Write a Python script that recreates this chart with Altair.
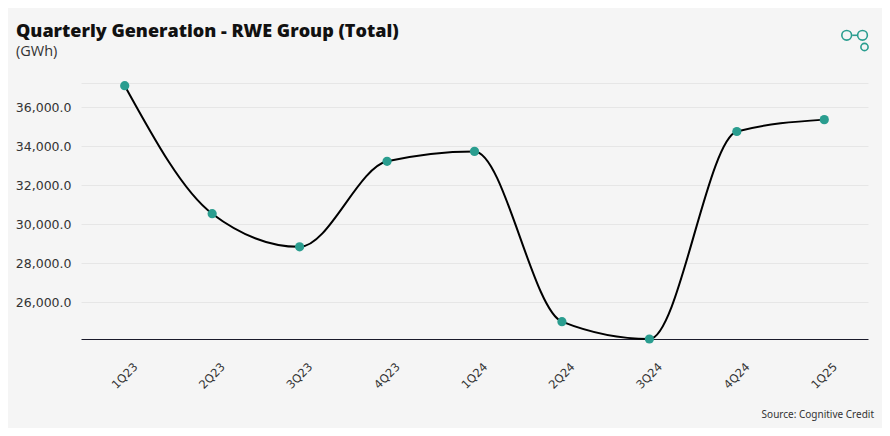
import altair as alt
import pandas as pd

quarters = ["1Q23", "2Q23", "3Q23", "4Q23", "1Q24", "2Q24", "3Q24", "4Q24", "1Q25"]
generation = [37110, 30540, 28840, 33230, 33740, 25000, 24110, 34760, 35370]
y_ticks = [26000, 28000, 30000, 32000, 34000, 36000, 37250]
y_domain = [24110, 37250]

title_text = "Quarterly Generation - RWE Group (Total)"
subtitle_text = "(GWh)"
source_text = ["Source: Cognitive Credit"]

TEAL = "#2a9d8f"
BG = "#f5f5f5"

df = pd.DataFrame({"quarter": quarters, "value": generation})

x_enc = alt.X(
    "quarter:N",
    sort=quarters,
    scale=alt.Scale(type="point", padding=0.5),
    axis=alt.Axis(
        title=None,
        labelAngle=315,
        labelAlign="center",
        labelBaseline="middle",
        labelPadding=37,
        ticks=False,
        tickSize=0,
        domainColor="#1a1a2a",
        domainWidth=1,
        labelFont="DejaVu Sans",
        labelFontSize=11.5,
        labelColor="#333333",
        grid=False,
    ),
)
y_enc = alt.Y(
    "value:Q",
    scale=alt.Scale(domain=y_domain, nice=False, zero=False),
    axis=alt.Axis(
        title=None,
        values=y_ticks,
        labelExpr="datum.value > 37000 ? '' : format(datum.value, ',.1f')",
        domain=False,
        ticks=False,
        labelPadding=10,
        labelFont="DejaVu Sans",
        labelFontSize=12.5,
        labelColor="#333333",
        gridColor="#e6e6e6",
        gridWidth=1,
    ),
)

line = alt.Chart(df).mark_line(
    interpolate="monotone", color="#000000", strokeWidth=2
).encode(x=x_enc, y=y_enc)

points = alt.Chart(df).mark_circle(size=85, color=TEAL, opacity=1).encode(
    x=alt.X("quarter:N", sort=quarters), y="value:Q"
)

src_df = pd.DataFrame({"t": source_text})
source = alt.Chart(src_df).mark_text(
    align="right", baseline="middle", font="Noto Sans", fontSize=10, color="#333333"
).encode(text="t:N", x=alt.value(793), y=alt.value(332))

logo_df = pd.DataFrame({"k": [1]})
logo_big1 = alt.Chart(logo_df).mark_point(
    shape="circle", filled=False, size=95, stroke=TEAL, strokeWidth=1.6, opacity=1
).encode(x=alt.value(765.7), y=alt.value(-47.7))
logo_big2 = alt.Chart(logo_df).mark_point(
    shape="circle", filled=False, size=95, stroke=TEAL, strokeWidth=1.6, opacity=1
).encode(x=alt.value(781.5), y=alt.value(-47.7))
logo_small = alt.Chart(logo_df).mark_point(
    shape="circle", filled=False, size=52, stroke=TEAL, strokeWidth=1.6, opacity=1
).encode(x=alt.value(783.5), y=alt.value(-36))
logo_link = alt.Chart(logo_df).mark_rule(color=TEAL, strokeWidth=1.6).encode(
    x=alt.value(771.2), x2=alt.value(776.0), y=alt.value(-47.7)
)

chart = alt.layer(
    line, points, source, logo_big1, logo_big2, logo_small, logo_link
).properties(
    width=787,
    height=256,
    autosize=alt.AutoSizeParams(type="none"),
    padding={"left": 73, "top": 75, "right": 14, "bottom": 89},
    background=BG,
    title=alt.TitleParams(
        text=title_text,
        subtitle=subtitle_text,
        anchor="start",
        frame="group",
        dx=-65,
        offset=-31,
        font="Open Sans",
        fontSize=18,
        fontWeight=800,
        color="#111111",
        subtitleFont="Open Sans",
        subtitleFontSize=14.5,
        subtitleColor="#333333",
        subtitlePadding=4,
    ),
).configure_view(stroke=None)

chart.save("out.html", embed_options={"renderer": "svg", "actions": False})
